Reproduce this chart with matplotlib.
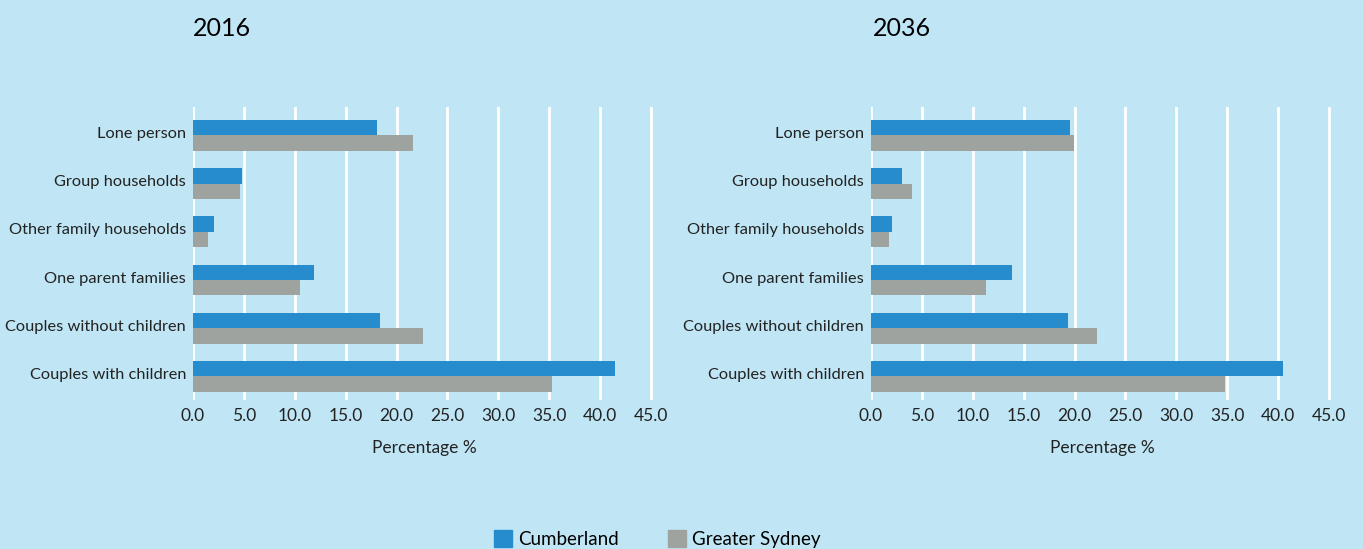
import matplotlib
matplotlib.use("Agg")
import matplotlib.pyplot as plt
import numpy as np
from matplotlib.patches import Patch

plt.rcParams['font.family'] = ['Lato', 'DejaVu Sans']

categories = ["Couples with children", "Couples without children", "One parent families",
              "Other family households", "Group households", "Lone person"]
cumberland_2016 = [41.5, 18.4, 11.9, 2.1, 4.8, 18.1]
sydney_2016 = [35.3, 22.6, 10.5, 1.5, 4.6, 21.6]
cumberland_2036 = [40.5, 19.4, 13.9, 2.1, 3.0, 19.6]
sydney_2036 = [34.8, 22.2, 11.3, 1.8, 4.0, 19.9]
xticks = [0, 5, 10, 15, 20, 25, 30, 35, 40, 45]
titles = ["2016", "2036"]

BG = "#C0E6F6"
BLUE = "#268CCE"
GRAY = "#9EA39F"

fig = plt.figure(figsize=(13.63, 5.49), dpi=100, facecolor=BG)
W, H = 1363, 549
ax_w = 462 / W
ax_b = 1 - 400 / H
ax_h = (400 - 107) / H
axes = [fig.add_axes([193 / W, ax_b, ax_w, ax_h]),
        fig.add_axes([871 / W, ax_b, ax_w, ax_h])]

data = [(cumberland_2016, sydney_2016), (cumberland_2036, sydney_2036)]
y = np.arange(len(categories))
bh = 0.32
for ax, (c, s), title in zip(axes, data, titles):
    ax.set_facecolor(BG)
    ax.barh(y + bh / 2, c, height=bh, color=BLUE, zorder=3)
    ax.barh(y - bh / 2, s, height=bh, color=GRAY, zorder=3)
    ax.set_xlim(0, 45.4)
    ax.set_ylim(-0.49, 5.59)
    ax.set_xticks(xticks)
    ax.set_xticklabels([f"{v:.1f}" for v in xticks], fontsize=12.5, color="#222222")
    ax.set_yticks(y + 0.06)
    ax.set_yticklabels(categories, fontsize=11.8, color="#222222")
    ax.tick_params(length=0, pad=5)
    ax.tick_params(axis='x', pad=6)
    for sp in ax.spines.values():
        sp.set_visible(False)
    ax.grid(axis='x', color='white', linewidth=2, zorder=0)
    ax.set_axisbelow(True)
    ax.set_xlabel("Percentage %", fontsize=12.5, color="#222222", labelpad=11)

fig.text(222 / W, 1 - 29 / H, titles[0], fontsize=18, ha='center', va='center', color="black")
fig.text(902 / W, 1 - 29 / H, titles[1], fontsize=18, ha='center', va='center', color="black")

handles = [Patch(color=BLUE, label="Cumberland"), Patch(color=GRAY, label="Greater Sydney")]
fig.legend(handles=handles, loc='center', bbox_to_anchor=(657 / W, 1 - 539 / H), ncol=2,
           frameon=False, fontsize=13.5, handlelength=1.0, handleheight=1.0,
           columnspacing=2.6, handletextpad=0.3)

fig.savefig("out.png", dpi=100, facecolor=BG)
